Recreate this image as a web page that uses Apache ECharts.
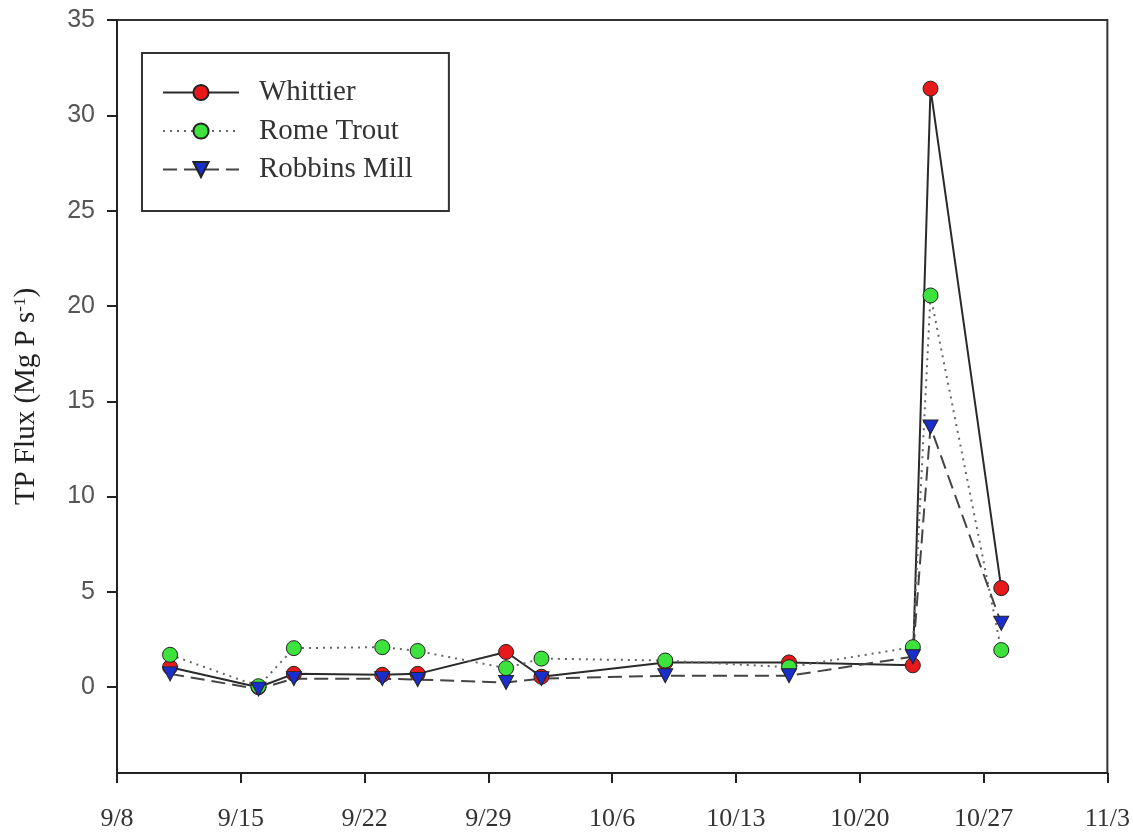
<!DOCTYPE html>
<html><head><meta charset="utf-8">
<script src="https://cdn.jsdelivr.net/npm/echarts@6/dist/echarts.min.js"></script>
<style>html,body{margin:0;padding:0;background:#fff}#c{width:1133px;height:837px}</style>
</head><body><div id="c"></div>
<script>
// Sampling dates (month/day labels)
const dates = ['9/11','9/16','9/18','9/23','9/25','9/30','10/2','10/9','10/16','10/23','10/24','10/28'];
// TP flux values (Mg P s^-1)
const whittier    = [1.05, 0.0, 0.7, 0.65, 0.7, 1.85, 0.55, 1.3, 1.3, 1.15, 31.4, 5.2];
const romeTrout   = [1.7, 0.05, 2.05, 2.1, 1.9, 1.0, 1.5, 1.4, 1.05, 2.1, 20.55, 1.95];
const robbinsMill = [0.7, -0.1, 0.45, 0.45, 0.4, 0.25, 0.45, 0.6, 0.6, 1.6, 13.65, 3.35];
// Axis ticks
const xTickLabels = ['9/8','9/15','9/22','9/29','10/6','10/13','10/20','10/27','11/3'];
const yTickValues = [0, 5, 10, 15, 20, 25, 30, 35];

const origin = new Date(2000, 8, 8);
function dayOffset(s) {
  const p = s.split('/');
  const d = new Date(2000, +p[0] - 1, +p[1]);
  return Math.round((d - origin) / 86400000);
}
function pts(vals) { return dates.map((d, i) => [dayOffset(d), vals[i]]); }

const chart = echarts.init(document.getElementById('c'), null, {renderer: 'canvas'});
chart.setOption({
  animation: false,
  backgroundColor: '#fff',
  grid: {left: 117, right: 24, top: 20, bottom: 64, show: true, borderColor: '#333', borderWidth: 2, backgroundColor: 'transparent'},
  legend: {
    orient: 'vertical', left: 142, top: 53,
    padding: [25, 36, 27, 20],
    itemWidth: 76, itemHeight: 19, itemGap: 9.5,
    borderColor: '#333', borderWidth: 2, backgroundColor: '#fff',
    textStyle: {fontFamily: 'Liberation Serif', fontSize: 29, color: '#333', lineHeight: 29, padding: [0, 0, 0, 15]},
    data: ['Whittier', 'Rome Trout', 'Robbins Mill']
  },
  xAxis: {
    type: 'value', min: 0, max: 56, interval: 7,
    axisLine: {onZero: false, lineStyle: {color: '#222', width: 2}},
    axisTick: {show: true, inside: false, length: 10, lineStyle: {color: '#222', width: 2}},
    axisLabel: {
      margin: 33, color: '#333', fontFamily: 'Liberation Serif', fontSize: 26,
      formatter: v => xTickLabels[Math.round(v / 7)]
    },
    splitLine: {show: false}
  },
  yAxis: {
    type: 'value', min: -4.5, max: 35,
    name: 'TP Flux (Mg P s{sup|-1})',
    nameLocation: 'middle', nameGap: 76,
    nameTextStyle: {
      fontFamily: 'Liberation Serif', fontSize: 29, color: '#222',
      rich: {sup: {fontFamily: 'Liberation Serif', fontSize: 17, color: '#222', verticalAlign: 'top', lineHeight: 29}}
    },
    axisLine: {onZero: false, lineStyle: {color: '#222', width: 2}},
    axisTick: {show: true, inside: false, length: 10, customValues: yTickValues, lineStyle: {color: '#222', width: 2}},
    axisLabel: {margin: 22, color: '#555', fontFamily: 'Liberation Sans', fontSize: 25, customValues: yTickValues},
    splitLine: {show: false}
  },
  series: [
    {
      name: 'Whittier', type: 'line', data: pts(whittier),
      symbol: 'circle', symbolSize: 15,
      itemStyle: {color: '#e8191b', borderColor: '#222', borderWidth: 1},
      lineStyle: {color: '#2a2a2a', width: 2, type: 'solid'}
    },
    {
      name: 'Rome Trout', type: 'line', data: pts(romeTrout),
      symbol: 'circle', symbolSize: 15,
      itemStyle: {color: '#3de23d', borderColor: '#222', borderWidth: 1},
      lineStyle: {color: '#666', width: 2, type: [2, 5]}
    },
    {
      name: 'Robbins Mill', type: 'line', data: pts(robbinsMill),
      symbol: 'triangle', symbolSize: [15, 14], symbolRotate: 180,
      itemStyle: {color: '#1a2ecc', borderColor: '#222', borderWidth: 1},
      lineStyle: {color: '#444', width: 2, type: [14, 7]}
    }
  ]
});
</script>
</body></html>
